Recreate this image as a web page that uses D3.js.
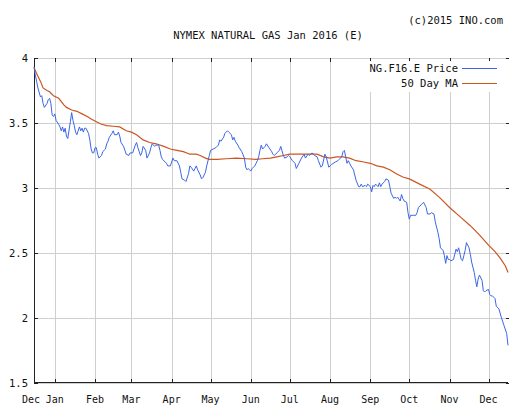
<!DOCTYPE html>
<html><head><meta charset="utf-8">
<script src="https://cdn.jsdelivr.net/npm/d3@7/dist/d3.min.js"></script>
<style>html,body{margin:0;padding:0;background:#fff}svg{display:block}</style>
</head><body><svg id="chart" width="509" height="405"></svg>
<script>
const title = "NYMEX NATURAL GAS Jan 2016 (E)";
const credit = "(c)2015 INO.com";
const seriesNames = ["NG.F16.E Price", "50 Day MA"];
const yTicks = [1.5, 2, 2.5, 3, 3.5, 4];
const startDate = "2014-12-16", endDate = "2015-12-16";
const monthTicks = ["2015-01-01","2015-02-01","2015-03-01","2015-04-01","2015-05-01","2015-06-01","2015-07-01","2015-08-01","2015-09-01","2015-10-01","2015-11-01","2015-12-01"];

const priceDates = ["2014-12-16","2014-12-17","2014-12-18","2014-12-19","2014-12-21","2014-12-22","2014-12-23","2014-12-24","2014-12-26","2014-12-27","2014-12-28","2014-12-29","2014-12-30","2014-12-31",
"2015-01-01","2015-01-02","2015-01-04","2015-01-05","2015-01-06","2015-01-07","2015-01-08","2015-01-09","2015-01-10","2015-01-11","2015-01-13","2015-01-14","2015-01-15","2015-01-16","2015-01-17","2015-01-18","2015-01-20","2015-01-21","2015-01-22","2015-01-23","2015-01-24","2015-01-25","2015-01-27","2015-01-28","2015-01-29","2015-01-30","2015-01-31",
"2015-02-01","2015-02-02","2015-02-03","2015-02-04","2015-02-06","2015-02-07","2015-02-09","2015-02-10","2015-02-11","2015-02-12","2015-02-14","2015-02-15","2015-02-16","2015-02-18","2015-02-19","2015-02-20","2015-02-21","2015-02-23","2015-02-24","2015-02-25","2015-02-27","2015-02-28",
"2015-03-02","2015-03-04","2015-03-05","2015-03-06","2015-03-08","2015-03-09","2015-03-10","2015-03-12","2015-03-13","2015-03-15","2015-03-16","2015-03-17","2015-03-19","2015-03-20","2015-03-22","2015-03-23","2015-03-24","2015-03-25","2015-03-27","2015-03-28","2015-03-29","2015-03-31",
"2015-04-02","2015-04-03","2015-04-05","2015-04-07","2015-04-08","2015-04-09","2015-04-11","2015-04-12","2015-04-14","2015-04-15","2015-04-16","2015-04-18","2015-04-19","2015-04-20","2015-04-21","2015-04-23","2015-04-24","2015-04-25","2015-04-27","2015-04-28","2015-04-30",
"2015-05-01","2015-05-03","2015-05-05","2015-05-07","2015-05-08","2015-05-09","2015-05-11","2015-05-12","2015-05-14","2015-05-15","2015-05-17","2015-05-18","2015-05-19","2015-05-20","2015-05-22","2015-05-23","2015-05-25","2015-05-27","2015-05-28","2015-05-29","2015-05-30",
"2015-06-01","2015-06-02","2015-06-04","2015-06-05","2015-06-06","2015-06-07","2015-06-08","2015-06-09","2015-06-10","2015-06-12","2015-06-13","2015-06-15","2015-06-17","2015-06-18","2015-06-19","2015-06-21","2015-06-23","2015-06-24","2015-06-26","2015-06-27","2015-06-29","2015-06-30",
"2015-07-01","2015-07-03","2015-07-05","2015-07-06","2015-07-08","2015-07-10","2015-07-12","2015-07-13","2015-07-15","2015-07-16","2015-07-18","2015-07-20","2015-07-22","2015-07-23","2015-07-25","2015-07-26","2015-07-28","2015-07-29","2015-07-31",
"2015-08-02","2015-08-05","2015-08-07","2015-08-10","2015-08-11","2015-08-12","2015-08-13","2015-08-14","2015-08-15","2015-08-16","2015-08-17","2015-08-19","2015-08-20","2015-08-21","2015-08-23","2015-08-24","2015-08-25","2015-08-26","2015-08-28","2015-08-29","2015-08-30",
"2015-09-01","2015-09-02","2015-09-03","2015-09-04","2015-09-05","2015-09-07","2015-09-08","2015-09-09","2015-09-10","2015-09-12","2015-09-13","2015-09-15","2015-09-16","2015-09-17","2015-09-19","2015-09-20","2015-09-21","2015-09-22","2015-09-24","2015-09-25","2015-09-26","2015-09-27","2015-09-29","2015-09-30",
"2015-10-01","2015-10-02","2015-10-04","2015-10-06","2015-10-07","2015-10-08","2015-10-10","2015-10-12","2015-10-13","2015-10-14","2015-10-15","2015-10-17","2015-10-18","2015-10-20","2015-10-21","2015-10-23","2015-10-24","2015-10-25","2015-10-27","2015-10-28","2015-10-29","2015-10-30","2015-10-31",
"2015-11-01","2015-11-02","2015-11-04","2015-11-05","2015-11-06","2015-11-07","2015-11-08","2015-11-10","2015-11-11","2015-11-12","2015-11-13","2015-11-14","2015-11-16","2015-11-17","2015-11-18","2015-11-20","2015-11-21","2015-11-22","2015-11-23","2015-11-24","2015-11-26","2015-11-27","2015-11-28","2015-11-29",
"2015-12-01","2015-12-02","2015-12-03","2015-12-04","2015-12-06","2015-12-07","2015-12-09","2015-12-11","2015-12-13","2015-12-15","2015-12-16"];

const priceValues = [3.93,3.87,3.82,3.77,3.70,3.71,3.65,3.62,3.65,3.68,3.69,3.65,3.56,3.55,
3.57,3.52,3.49,3.47,3.44,3.47,3.43,3.46,3.40,3.38,3.51,3.58,3.52,3.48,3.43,3.41,3.47,3.44,3.46,3.43,3.46,3.46,3.42,3.37,3.30,3.27,3.27,
3.31,3.31,3.26,3.23,3.25,3.28,3.30,3.34,3.36,3.39,3.42,3.44,3.41,3.41,3.43,3.40,3.35,3.32,3.29,3.26,3.25,3.27,
3.27,3.33,3.35,3.31,3.25,3.27,3.32,3.29,3.23,3.27,3.31,3.34,3.32,3.33,3.33,3.29,3.24,3.22,3.20,3.19,3.17,3.17,
3.23,3.21,3.21,3.17,3.12,3.07,3.06,3.05,3.11,3.17,3.16,3.13,3.15,3.17,3.14,3.10,3.07,3.08,3.12,3.17,3.25,
3.29,3.30,3.31,3.33,3.37,3.36,3.39,3.42,3.44,3.43,3.41,3.37,3.39,3.36,3.33,3.31,3.28,3.23,3.16,3.14,3.15,
3.13,3.15,3.17,3.19,3.21,3.24,3.29,3.33,3.30,3.32,3.34,3.31,3.28,3.26,3.25,3.27,3.29,3.32,3.25,3.23,3.24,3.25,
3.24,3.21,3.19,3.15,3.19,3.23,3.26,3.23,3.26,3.25,3.27,3.25,3.24,3.21,3.16,3.17,3.26,3.24,3.16,
3.18,3.20,3.21,3.24,3.28,3.29,3.24,3.19,3.21,3.19,3.17,3.14,3.10,3.06,3.01,3.01,3.03,3.01,3.02,3.01,3.03,
3.01,2.97,3.02,3.01,3.03,3.01,3.04,3.01,3.03,3.05,3.07,3.06,3.01,2.96,2.92,2.93,2.92,2.93,2.90,2.95,2.92,2.90,2.89,2.81,
2.76,2.79,2.79,2.79,2.81,2.85,2.87,2.89,2.87,2.85,2.80,2.80,2.81,2.80,2.74,2.66,2.61,2.54,2.52,2.48,2.42,2.48,2.45,
2.45,2.44,2.45,2.49,2.53,2.51,2.54,2.45,2.44,2.48,2.52,2.58,2.54,2.49,2.43,2.35,2.29,2.24,2.30,2.33,2.29,2.21,2.20,2.21,
2.22,2.18,2.17,2.17,2.15,2.09,2.07,2.00,1.94,1.88,1.79];

const maDates = ["2014-12-16","2014-12-18","2014-12-21","2014-12-23","2014-12-26","2014-12-28","2014-12-31","2015-01-04","2015-01-08","2015-01-10","2015-01-14","2015-01-18","2015-01-22","2015-01-26","2015-01-29",
"2015-02-02","2015-02-06","2015-02-10","2015-02-15","2015-02-20","2015-02-25","2015-03-01","2015-03-05","2015-03-10","2015-03-15","2015-03-20","2015-03-26","2015-03-31",
"2015-04-05","2015-04-10","2015-04-15","2015-04-20","2015-04-23","2015-04-27","2015-04-30","2015-05-06","2015-05-13","2015-05-21","2015-05-29",
"2015-06-05","2015-06-10","2015-06-16","2015-06-21","2015-06-26","2015-07-01","2015-07-06","2015-07-11","2015-07-16","2015-07-22","2015-07-27",
"2015-08-01","2015-08-06","2015-08-11","2015-08-16","2015-08-21","2015-08-27","2015-09-01","2015-09-06","2015-09-11","2015-09-16","2015-09-21","2015-09-26",
"2015-10-01","2015-10-09","2015-10-17","2015-10-24","2015-11-01","2015-11-09","2015-11-17","2015-11-24","2015-12-01","2015-12-06","2015-12-10","2015-12-14","2015-12-16"];
const maValues = [3.93,3.88,3.82,3.77,3.75,3.74,3.71,3.69,3.64,3.62,3.60,3.59,3.57,3.55,3.53,
3.51,3.49,3.48,3.475,3.47,3.44,3.43,3.41,3.37,3.35,3.34,3.32,3.30,
3.29,3.28,3.26,3.26,3.25,3.23,3.22,3.22,3.225,3.23,3.225,
3.22,3.225,3.23,3.24,3.25,3.26,3.26,3.26,3.26,3.26,3.24,
3.23,3.24,3.24,3.23,3.21,3.20,3.19,3.17,3.16,3.14,3.11,3.085,
3.07,3.03,2.99,2.93,2.85,2.78,2.71,2.64,2.56,2.51,2.46,2.40,2.35];

const parse = d3.timeParse("%Y-%m-%d");
const price = priceDates.map((d, i) => ({date: parse(d), value: priceValues[i]}));
const ma = maDates.map((d, i) => ({date: parse(d), value: maValues[i]}));

const L = 34, R = 508, T = 58, B = 383;
const x = d3.scaleTime().domain([parse(startDate), parse(endDate)]).range([L, R]);
const y = d3.scaleLinear().domain([1.5, 4]).range([B, T]);
const months = monthTicks.map(parse);
const fmt = d3.timeFormat("%b");
const FONT = "'DejaVu Sans Mono', 'Liberation Mono', monospace";

const svg = d3.select("#chart");
svg.append("rect").attr("width", 509).attr("height", 405).attr("fill", "#fff");

// gridlines
const grid = svg.append("g").attr("stroke", "#cfcfcf").attr("stroke-width", 1).attr("shape-rendering", "crispEdges");
grid.selectAll("line.v").data(months).join("line").attr("class", "v")
  .attr("x1", d => Math.round(x(d)) + 0.5).attr("x2", d => Math.round(x(d)) + 0.5)
  .attr("y1", T).attr("y2", B);
grid.selectAll("line.h").data(yTicks).join("line").attr("class", "h")
  .attr("x1", L).attr("x2", R)
  .attr("y1", d => Math.round(y(d)) + 0.5).attr("y2", d => Math.round(y(d)) + 0.5);

// axes frame
const ax = svg.append("g").attr("stroke", "#222").attr("stroke-width", 1).attr("shape-rendering", "crispEdges");
ax.append("line").attr("x1", L + 0.5).attr("x2", L + 0.5).attr("y1", T).attr("y2", B + 0.5);
ax.append("line").attr("x1", L).attr("x2", R).attr("y1", B - 0.5).attr("y2", B - 0.5);
const allX = [parse(startDate)].concat(months);
ax.selectAll("line.bt").data(allX).join("line").attr("class", "bt")
  .attr("x1", d => Math.round(x(d)) + 0.5).attr("x2", d => Math.round(x(d)) + 0.5)
  .attr("y1", B - 4).attr("y2", B);
ax.selectAll("line.tt").data(allX).join("line").attr("class", "tt")
  .attr("x1", d => Math.round(x(d)) + 0.5).attr("x2", d => Math.round(x(d)) + 0.5)
  .attr("y1", T).attr("y2", T + 4);
ax.selectAll("line.lt").data(yTicks).join("line").attr("class", "lt")
  .attr("x1", L).attr("x2", L + 4)
  .attr("y1", d => Math.round(y(d)) + 0.5).attr("y2", d => Math.round(y(d)) + 0.5);
ax.selectAll("line.rt").data(yTicks).join("line").attr("class", "rt")
  .attr("x1", R - 2).attr("x2", 509)
  .attr("y1", d => Math.round(y(d)) + 0.5).attr("y2", d => Math.round(y(d)) + 0.5);

// axis labels
svg.append("g").selectAll("text").data(yTicks).join("text")
  .attr("x", 28).attr("y", d => y(d) + 4).attr("text-anchor", "end")
  .attr("font-family", FONT).attr("font-size", 10.5).attr("fill", "#111")
  .text(d => d);
svg.append("g").selectAll("text").data(allX).join("text")
  .attr("x", (d, i) => x(d) - (i === 0 ? 3 : 0)).attr("y", 403).attr("text-anchor", "middle")
  .attr("font-family", FONT).attr("font-size", 10).attr("fill", "#111")
  .text(d => fmt(d));

// series
const line = d3.line().x(d => x(d.date)).y(d => y(d.value));
svg.append("path").datum(ma).attr("d", line).attr("fill", "none")
  .attr("stroke", "#cc5522").attr("stroke-width", 1.2);
svg.append("path").datum(price).attr("d", line).attr("fill", "none")
  .attr("stroke", "#3a66e6").attr("stroke-width", 1);

// legend
const lg = svg.append("g");
lg.append("rect").attr("x", 362).attr("y", 61).attr("width", 140).attr("height", 31).attr("fill", "#fff");
const legendColors = ["#3a66e6", "#cc5522"];
seriesNames.forEach((n, i) => {
  lg.append("text").attr("x", 458).attr("y", 72 + i * 15).attr("text-anchor", "end")
    .attr("font-family", FONT).attr("font-size", 10.5).attr("fill", "#111").text(n);
  lg.append("line").attr("x1", 462).attr("x2", 497).attr("y1", 68.5 + i * 15).attr("y2", 68.5 + i * 15)
    .attr("stroke", legendColors[i]).attr("stroke-width", 1);
});

// titles
svg.append("text").attr("x", 503).attr("y", 24).attr("text-anchor", "end")
  .attr("font-family", FONT).attr("font-size", 10.5).attr("fill", "#111").text(credit);
svg.append("text").attr("x", 268).attr("y", 39).attr("text-anchor", "middle")
  .attr("font-family", FONT).attr("font-size", 10.5).attr("fill", "#111").text(title);
</script></body></html>
